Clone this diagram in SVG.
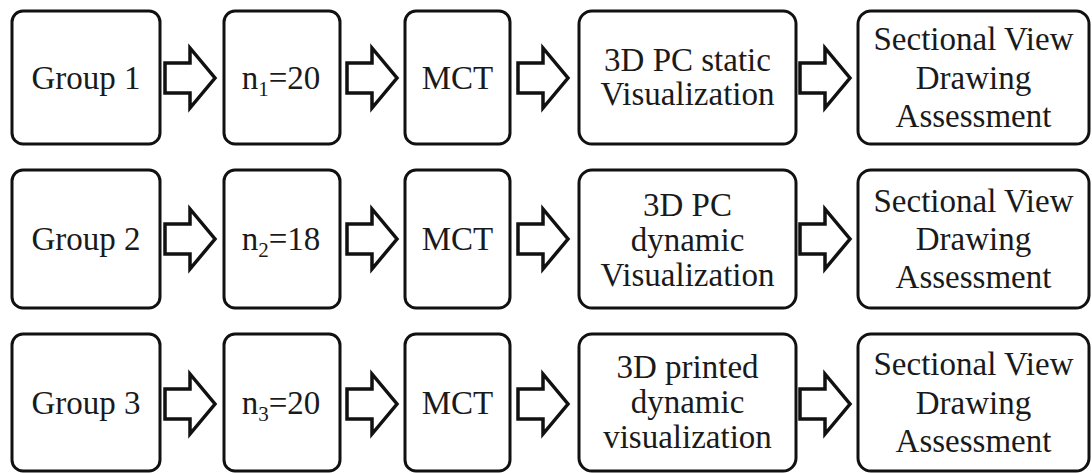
<svg xmlns="http://www.w3.org/2000/svg" xmlns:xlink="http://www.w3.org/1999/xlink" width="1092" height="473" viewBox="0 0 1092 473">
  <style>
    .box { fill: #ffffff; stroke: #111111; stroke-width: 3; }
    .lbl { font-family: 'Liberation Serif', 'DejaVu Serif', serif; font-size: 33px; fill: #1a1a1a; text-anchor: middle; }
    .sub { font-size: 21px; }
    .arrow { fill: #ffffff; stroke: #111111; stroke-width: 3.5; stroke-linejoin: miter; }
  </style>
  <defs>
    <!-- block arrow, origin at left end of the shaft, vertical centre -->
    <path id="blockArrow" class="arrow" d="M0,-15 H25 V-30 L50,0 L25,30 V15 H0 Z"/>
  </defs>

  <rect width="1092" height="473" fill="#ffffff"/>

  <!-- connectors -->
  <g id="connectors">
    <use xlink:href="#blockArrow" transform="translate(165,78)"/>
    <use xlink:href="#blockArrow" transform="translate(347,78)"/>
    <use xlink:href="#blockArrow" transform="translate(518,78)"/>
    <use xlink:href="#blockArrow" transform="translate(800,78)"/>

    <use xlink:href="#blockArrow" transform="translate(165,239)"/>
    <use xlink:href="#blockArrow" transform="translate(347,239)"/>
    <use xlink:href="#blockArrow" transform="translate(518,239)"/>
    <use xlink:href="#blockArrow" transform="translate(800,239)"/>

    <use xlink:href="#blockArrow" transform="translate(165,404)"/>
    <use xlink:href="#blockArrow" transform="translate(347,404)"/>
    <use xlink:href="#blockArrow" transform="translate(518,404)"/>
    <use xlink:href="#blockArrow" transform="translate(800,404)"/>
  </g>

  <!-- row 1 -->
  <g id="group1">
    <rect class="box" x="12" y="11" width="148" height="133" rx="11"/>
    <text class="lbl" x="86" y="88.5">Group 1</text>
  </g>
  <g id="n1">
    <rect class="box" x="224" y="11" width="116" height="133" rx="11"/>
    <text class="lbl" x="281" y="88.5">n<tspan class="sub" dy="7">1</tspan><tspan dy="-7">=20</tspan></text>
  </g>
  <g id="mct1">
    <rect class="box" x="405" y="11" width="105" height="133" rx="11"/>
    <text class="lbl" x="457.5" y="88.5">MCT</text>
  </g>
  <g id="vis1">
    <rect class="box" x="579" y="11" width="217" height="133" rx="13"/>
    <text class="lbl" x="687.5" y="71">3D PC static</text>
    <text class="lbl" x="687.5" y="105">Visualization</text>
  </g>
  <g id="assess1">
    <rect class="box" x="858" y="11" width="231" height="133" rx="13"/>
    <text class="lbl" x="973.5" y="50">Sectional View</text>
    <text class="lbl" x="973.5" y="89">Drawing</text>
    <text class="lbl" x="973.5" y="127">Assessment</text>
  </g>

  <!-- row 2 -->
  <g id="group2">
    <rect class="box" x="12" y="170" width="148" height="138" rx="11"/>
    <text class="lbl" x="86" y="250">Group 2</text>
  </g>
  <g id="n2">
    <rect class="box" x="224" y="170" width="116" height="138" rx="11"/>
    <text class="lbl" x="281" y="250">n<tspan class="sub" dy="7">2</tspan><tspan dy="-7">=18</tspan></text>
  </g>
  <g id="mct2">
    <rect class="box" x="405" y="170" width="105" height="138" rx="11"/>
    <text class="lbl" x="457.5" y="250">MCT</text>
  </g>
  <g id="vis2">
    <rect class="box" x="579" y="170" width="217" height="138" rx="13"/>
    <text class="lbl" x="687.5" y="216">3D PC</text>
    <text class="lbl" x="687.5" y="251">dynamic</text>
    <text class="lbl" x="687.5" y="286">Visualization</text>
  </g>
  <g id="assess2">
    <rect class="box" x="858" y="170" width="231" height="138" rx="13"/>
    <text class="lbl" x="973.5" y="212">Sectional View</text>
    <text class="lbl" x="973.5" y="250">Drawing</text>
    <text class="lbl" x="973.5" y="288">Assessment</text>
  </g>

  <!-- row 3 -->
  <g id="group3">
    <rect class="box" x="12" y="334" width="148" height="137" rx="11"/>
    <text class="lbl" x="86" y="413.5">Group 3</text>
  </g>
  <g id="n3">
    <rect class="box" x="224" y="334" width="116" height="137" rx="11"/>
    <text class="lbl" x="281" y="413.5">n<tspan class="sub" dy="7">3</tspan><tspan dy="-7">=20</tspan></text>
  </g>
  <g id="mct3">
    <rect class="box" x="405" y="334" width="105" height="137" rx="11"/>
    <text class="lbl" x="457.5" y="413.5">MCT</text>
  </g>
  <g id="vis3">
    <rect class="box" x="579" y="334" width="217" height="137" rx="13"/>
    <text class="lbl" x="687.5" y="378">3D printed</text>
    <text class="lbl" x="687.5" y="413">dynamic</text>
    <text class="lbl" x="687.5" y="448">visualization</text>
  </g>
  <g id="assess3">
    <rect class="box" x="858" y="334" width="231" height="137" rx="13"/>
    <text class="lbl" x="973.5" y="375">Sectional View</text>
    <text class="lbl" x="973.5" y="414">Drawing</text>
    <text class="lbl" x="973.5" y="452">Assessment</text>
  </g>
</svg>
